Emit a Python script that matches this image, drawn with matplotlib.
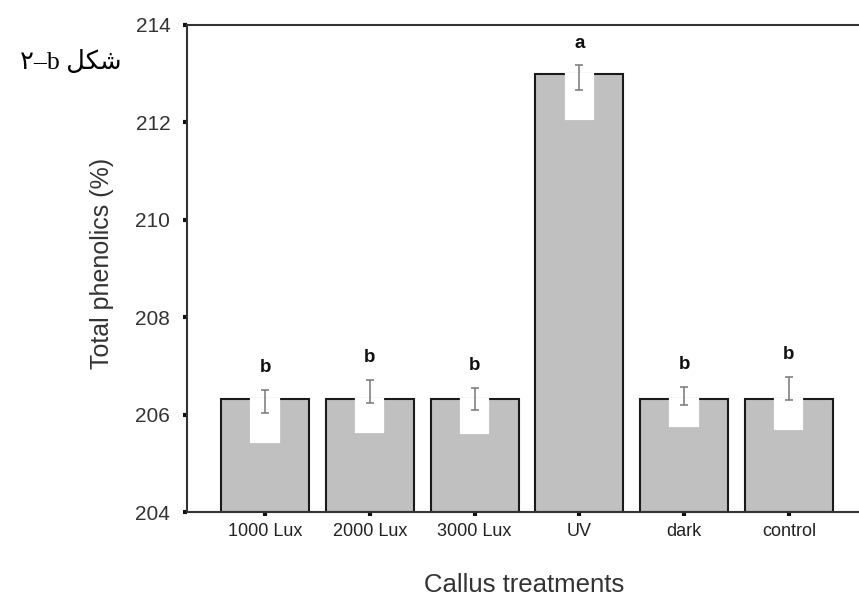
import matplotlib
matplotlib.use("Agg")
import matplotlib.pyplot as plt
import numpy as np

# values
treatments = ["1000 Lux", "2000 Lux", "3000 Lux", "UV", "dark", "control"]
means = [206.33, 206.33, 206.33, 213.0, 206.33, 206.33]
notch_low = [205.43, 205.65, 205.63, 212.08, 205.77, 205.71]
err_low = [206.04, 206.23, 206.10, 212.67, 206.20, 206.31]
err_high = [206.51, 206.72, 206.55, 213.17, 206.57, 206.78]
letters = ["b", "b", "b", "a", "b", "b"]
yticks = [204, 206, 208, 210, 212, 214]

plt.rcParams["font.family"] = ["Liberation Sans", "DejaVu Sans"]

fig = plt.figure(figsize=(8.59, 6.01), dpi=100)
ax = fig.add_axes([187 / 859, 1 - 512 / 601, 1 - 187 / 859, (512 - 25) / 601])

x = np.arange(len(treatments))
means = np.array(means)
notch_low = np.array(notch_low)
err_low = np.array(err_low)
err_high = np.array(err_high)

ax.bar(x, means - 204, bottom=204, width=0.84, color="#c0c0c0",
       edgecolor="#1a1a1a", linewidth=1.5, zorder=2)
ax.bar(x, means - notch_low, bottom=notch_low, width=0.26, color="white",
       edgecolor="white", linewidth=1.6, zorder=3)
ax.errorbar(x, (err_low + err_high) / 2, yerr=(err_high - err_low) / 2,
            fmt="none", ecolor="#777777", elinewidth=1.1, capsize=3,
            capthick=1.1, zorder=4)

for xi, hi, lab in zip(x, err_high, letters):
    ax.text(xi, hi + 0.45, lab, ha="center", va="center", fontsize=13.5,
            fontweight="bold", color="#111111")

ax.set_xlim(-0.745, 5.67)
ax.set_ylim(204, 214)
ax.set_yticks(yticks)
ax.set_xticks(x)
ax.set_xticklabels(treatments, fontsize=13, color="#222222")
ax.set_yticklabels([str(t) for t in yticks], fontsize=15, color="#333333")
ax.tick_params(axis="both", direction="out", length=3, width=3, color="#111111")
ax.tick_params(axis="x", pad=5)
ax.tick_params(axis="y", pad=9)

ax.spines["right"].set_visible(False)
for s in ["left", "top", "bottom"]:
    ax.spines[s].set_linewidth(1.5)
    ax.spines[s].set_color("#333333")

fig.text(102 / 859, 1 - 263 / 601, "Total phenolics (%)", fontsize=18,
         color="#333333", rotation=90, ha="center", va="center")
fig.text(524 / 859, 1 - 592 / 601, "Callus treatments", fontsize=18.5,
         color="#333333", ha="center", va="baseline")

# caption, Persian presentation forms in visual order
fig.text(20 / 859, 1 - 62 / 601, "\u06f2\u2013b \ufede\ufb91\ufeb7",
         fontsize=18.5, va="center", ha="left",
         family=["Liberation Serif", "DejaVu Sans"])

fig.savefig("out.png", dpi=100)
